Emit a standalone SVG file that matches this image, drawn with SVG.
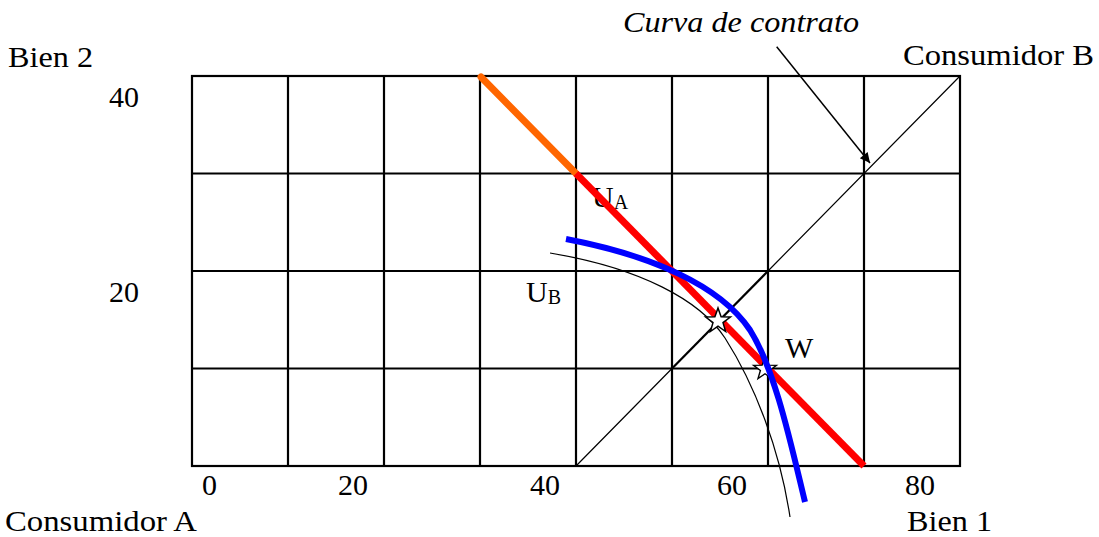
<svg xmlns="http://www.w3.org/2000/svg" width="1099" height="537" viewBox="0 0 1099 537">
<style>
text{font-family:"Liberation Serif","Times New Roman",serif;font-size:30px;fill:#000}
.it{font-style:italic}
.sub{font-size:20px}
.grid{stroke:#000;stroke-width:2.2;fill:none}
.thin{stroke:#000;stroke-width:1.2;fill:none}
.star{fill:#fff;stroke:#000;stroke-width:1.5;stroke-linejoin:miter}
</style>
<defs>
<marker id="ah" viewBox="0 0 10 10" refX="10" refY="5" markerWidth="13" markerHeight="10" markerUnits="userSpaceOnUse" orient="auto">
<path d="M0,0 L10,5 L0,10 z" fill="#000"/>
</marker>
<polygon id="st" points="0,-13 3.1,-4.2 12.4,-4 5,1.6 7.6,10.5 0,5.2 -7.6,10.5 -5,1.6 -12.4,-4 -3.1,-4.2"/>
</defs>
<rect width="1099" height="537" fill="#fff"/>
<g id="grid">
<rect class="grid" x="192" y="76" width="768" height="390"/>
<path class="grid" d="M288,76V466M384,76V466M480,76V466M576,76V466M672,76V466M768,76V466M864,76V466M192,173.5H960M192,271H960M192,368.5H960"/>
</g>
<g id="labels">
<text x="8" y="67" textLength="85" lengthAdjust="spacingAndGlyphs">Bien 2</text>
<text x="903" y="65" textLength="191" lengthAdjust="spacingAndGlyphs">Consumidor B</text>
<text class="it" x="623" y="32" textLength="236" lengthAdjust="spacingAndGlyphs">Curva de contrato</text>
<text x="109" y="107">40</text>
<text x="109" y="302">20</text>
<text x="202" y="495">0</text>
<text x="338" y="495">20</text>
<text x="530" y="495">40</text>
<text x="717" y="495">60</text>
<text x="905" y="495">80</text>
<text x="5" y="531" textLength="192" lengthAdjust="spacingAndGlyphs">Consumidor A</text>
<text x="907" y="531" textLength="85" lengthAdjust="spacingAndGlyphs">Bien 1</text>
</g>
<g id="connectors">
<g id="contract-curve">
<path class="thin" d="M576,466L672,368.5M768,271L960,76"/>
<path d="M672,368.5L768,271" stroke="#000" stroke-width="2.2" fill="none"/>
</g>
<line id="arrow-contrato" x1="776.7" y1="46.7" x2="870" y2="163" stroke="#000" stroke-width="1.5" marker-end="url(#ah)"/>
</g>
<g id="UA">
<text x="592" y="207">U<tspan class="sub" dy="2">A</tspan></text>
<path d="M481,77L576,173.5" stroke="#ff6600" stroke-width="7" stroke-linecap="round" fill="none"/>
<path d="M576,173.5L864,466" stroke="#ff0000" stroke-width="7" stroke-linecap="butt" fill="none"/>
</g>
<g id="UB">
<text x="526" y="302">U<tspan class="sub" dy="2">B</tspan></text>
<path class="thin" d="M550,253C640,268 700,300 725,338C755,385 780,450 790,517"/>
</g>
<g id="star-1">
<use href="#st" class="star" transform="translate(718,321)"/>
</g>
<g id="W">
<use href="#st" class="star" transform="translate(765,369) scale(0.92)"/>
<text x="785" y="358">W</text>
</g>
<g id="blue-curve">
<path d="M566,239C650,255 720,285 750,330C775,370 790,440 805,502" stroke="#0000ff" stroke-width="6" fill="none"/>
</g>
</svg>
